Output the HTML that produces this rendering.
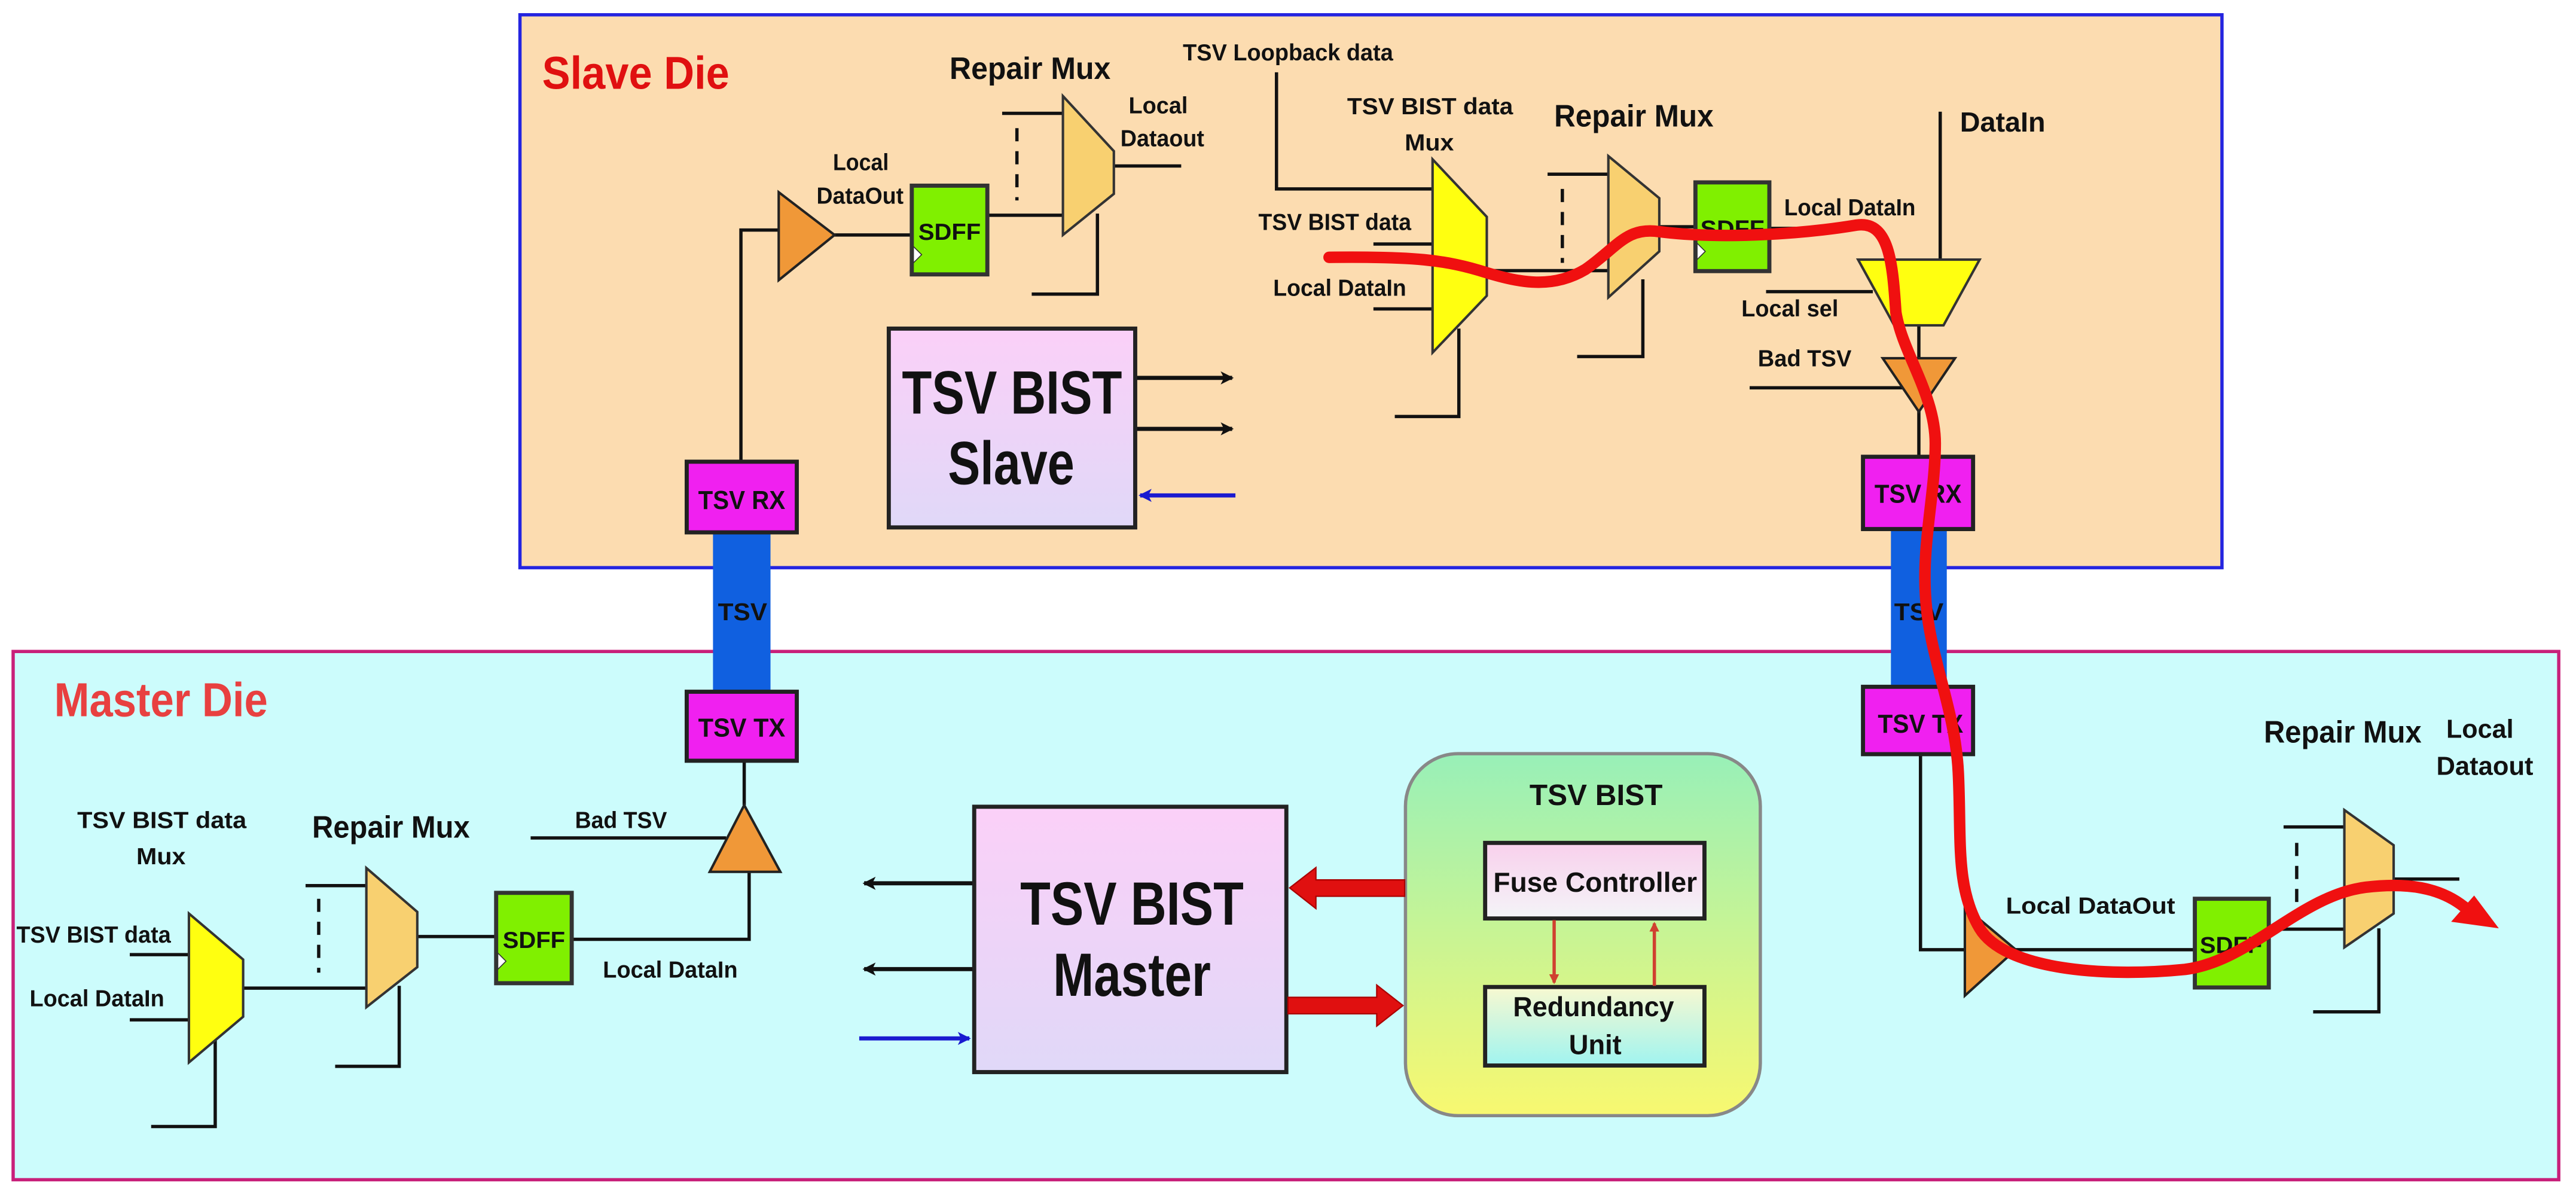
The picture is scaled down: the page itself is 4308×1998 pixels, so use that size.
<!DOCTYPE html>
<html><head><meta charset="utf-8"><style>
html,body{margin:0;padding:0;background:#fff;}
svg{display:block;}
text{font-family:"Liberation Sans",Arial,sans-serif;font-weight:bold;fill:#111;}
</style></head><body>
<svg width="4308" height="1998" viewBox="0 0 1568 727.3" preserveAspectRatio="none" xmlns="http://www.w3.org/2000/svg">
<defs>
<linearGradient id="pk" x1="0" y1="0" x2="0" y2="1"><stop offset="0" stop-color="#fbd0f8"/><stop offset="1" stop-color="#e0d8f8"/></linearGradient>
<linearGradient id="gy" x1="0" y1="0" x2="0" y2="1"><stop offset="0" stop-color="#98f0b8"/><stop offset="1" stop-color="#f8f870"/></linearGradient>
<linearGradient id="fc" x1="0" y1="0" x2="0" y2="1"><stop offset="0" stop-color="#f8d0ec"/><stop offset="1" stop-color="#f4f4f8"/></linearGradient>
<linearGradient id="ru" x1="0" y1="0" x2="0" y2="1"><stop offset="0" stop-color="#f8f8d0"/><stop offset="1" stop-color="#a0f4f0"/></linearGradient>
<marker id="ab" markerWidth="8" markerHeight="8" refX="7" refY="4" orient="auto" markerUnits="userSpaceOnUse"><path d="M0,0 L8,4 L0,8 L2,4z" fill="#111"/></marker>
<marker id="abl" markerWidth="8" markerHeight="8" refX="7" refY="4" orient="auto" markerUnits="userSpaceOnUse"><path d="M0,0 L8,4 L0,8 L2,4z" fill="#1a1ad0"/></marker>
<marker id="ar" markerWidth="6" markerHeight="6" refX="5" refY="3" orient="auto" markerUnits="userSpaceOnUse"><path d="M0,0 L6,3 L0,6z" fill="#d04030"/></marker>
</defs>

<!-- Dies -->
<rect x="316.5" y="9" width="1036" height="336.5" fill="#fcdcb0" stroke="#2424e0" stroke-width="2"/>
<rect x="8" y="396.5" width="1549.5" height="321.5" fill="#ccfcfc" stroke="#c8207a" stroke-width="2"/>
<text x="330" y="54" font-size="28" style="fill:#e01010" textLength="114" lengthAdjust="spacingAndGlyphs">Slave Die</text>
<text x="33" y="436" font-size="29" style="fill:#e84040" textLength="130" lengthAdjust="spacingAndGlyphs">Master Die</text>

<g stroke="#111" stroke-width="2" fill="none">
<!-- slave left -->
<polyline points="451,281 451,140 474,140"/>
<line x1="508" y1="143" x2="555" y2="143"/>
<line x1="601" y1="131" x2="647" y2="131"/>
<line x1="610" y1="69" x2="647" y2="69"/>
<line x1="619" y1="78" x2="619" y2="122" stroke-dasharray="8,6"/>
<polyline points="668,130 668,179 628,179"/>
<line x1="678" y1="101" x2="719" y2="101"/>
<!-- loopback -->
<polyline points="777,44 777,115 872,115"/>
<line x1="836" y1="148.5" x2="872" y2="148.5"/>
<line x1="836" y1="188" x2="872" y2="188"/>
<polyline points="888,200 888,253.5 849,253.5"/>
<line x1="905" y1="164.7" x2="979" y2="164.7"/>
<line x1="942" y1="106" x2="979" y2="106"/>
<line x1="951" y1="115" x2="951" y2="160" stroke-dasharray="8,6"/>
<polyline points="1000,170 1000,217 960,217"/>
<line x1="1010" y1="138" x2="1032" y2="138"/>
<line x1="1077" y1="139" x2="1140" y2="139"/>
<line x1="1181" y1="68" x2="1181" y2="158"/>
<line x1="1075" y1="177.5" x2="1140" y2="177.5"/>
<line x1="1168" y1="198" x2="1168" y2="218"/>
<line x1="1065" y1="236" x2="1158" y2="236"/>
<line x1="1168" y1="250" x2="1168" y2="278"/>
<!-- slave bist arrows -->
<line x1="692" y1="230" x2="750" y2="230" marker-end="url(#ab)" stroke-width="2.5"/>
<line x1="692" y1="261" x2="750" y2="261" marker-end="url(#ab)" stroke-width="2.5"/>
<line x1="752" y1="301.5" x2="694" y2="301.5" marker-end="url(#abl)" stroke="#1a1ad0" stroke-width="2.5"/>
<!-- master left -->
<line x1="453" y1="463" x2="453" y2="490"/>
<line x1="323" y1="510" x2="442" y2="510"/>
<polyline points="456,531 456,571.7 348,571.7"/>
<line x1="254" y1="570" x2="302" y2="570"/>
<line x1="186" y1="539" x2="223" y2="539"/>
<line x1="194" y1="547" x2="194" y2="592" stroke-dasharray="8,6"/>
<polyline points="243,600 243,649 204,649"/>
<line x1="148" y1="601.4" x2="223" y2="601.4"/>
<line x1="79" y1="581" x2="115" y2="581"/>
<line x1="79" y1="620.7" x2="115" y2="620.7"/>
<polyline points="131,630 131,685.6 92,685.6"/>
<line x1="592" y1="537.6" x2="526" y2="537.6" marker-end="url(#ab)" stroke-width="2.5"/>
<line x1="592" y1="589.8" x2="526" y2="589.8" marker-end="url(#ab)" stroke-width="2.5"/>
<line x1="523" y1="632" x2="590" y2="632" marker-end="url(#abl)" stroke="#1a1ad0" stroke-width="2.5"/>
<!-- master right -->
<polyline points="1169,459 1169,578 1196,578"/>
<line x1="1227" y1="578" x2="1336" y2="578"/>
<line x1="1381" y1="565.5" x2="1427" y2="565.5"/>
<line x1="1390" y1="503.3" x2="1427" y2="503.3"/>
<line x1="1398" y1="513" x2="1398" y2="557" stroke-dasharray="8,6"/>
<polyline points="1448,565 1448,615.8 1408,615.8"/>
<line x1="1457" y1="535" x2="1497" y2="535"/>
</g>

<!-- TSV bars -->
<rect x="434" y="324" width="35" height="97" fill="#1060e0"/>
<rect x="1151" y="322" width="34" height="96" fill="#1060e0"/>
<text x="437" y="377.5" font-size="15" textLength="30" lengthAdjust="spacingAndGlyphs">TSV</text>
<text x="1153" y="377.5" font-size="15" textLength="30" lengthAdjust="spacingAndGlyphs">TSV</text>

<!-- TSV RX/TX -->
<g stroke="#222" stroke-width="2.5" fill="#f020f0">
<rect x="418" y="281" width="67" height="43"/>
<rect x="418" y="421" width="67" height="42"/>
<rect x="1134" y="278" width="67" height="44"/>
<rect x="1134" y="418" width="67" height="41"/>
</g>
<g font-size="16">
<text x="425" y="309.7" textLength="53" lengthAdjust="spacingAndGlyphs">TSV RX</text>
<text x="425" y="448.3" textLength="53" lengthAdjust="spacingAndGlyphs">TSV TX</text>
<text x="1141" y="306" textLength="53" lengthAdjust="spacingAndGlyphs">TSV RX</text>
<text x="1143" y="446" textLength="52" lengthAdjust="spacingAndGlyphs">TSV TX</text>
</g>

<!-- Buffers -->
<g fill="#f09838" stroke="#222" stroke-width="1.5">
<polygon points="474,117 474,170.5 508,143"/>
<polygon points="1146,218 1190,218 1168,250.6"/>
<polygon points="453,490 432,530.6 475,530.6"/>
<polygon points="1196,552 1196,606 1227,578"/>
</g>
<!-- Yellow muxes -->
<g fill="#ffff10" stroke="#333" stroke-width="1.5">
<polygon points="872,97 905,132 905,180 872,214.6"/>
<polygon points="1131,158 1205,158 1183,198 1153,198"/>
<polygon points="115,556 148,584 148,618.8 115,646.6"/>
</g>
<!-- Repair muxes -->
<g fill="#f8d070" stroke="#333" stroke-width="1.5">
<polygon points="647,58.5 678,92 678,118 647,143"/>
<polygon points="979,95 1010,120.6 1010,153 979,181"/>
<polygon points="223,528.3 254,555 254,588.6 223,613"/>
<polygon points="1427,493 1457,514.4 1457,556 1427,576.6"/>
</g>
<!-- SDFFs -->
<g stroke="#333" stroke-width="2.5" fill="#80f000">
<rect x="555" y="113" width="46" height="54"/>
<rect x="1032" y="111" width="45" height="54"/>
<rect x="302" y="543.4" width="46" height="55"/>
<rect x="1336" y="547" width="45" height="54"/>
</g>
<g fill="#fff" stroke="#333" stroke-width="0.6">
<polygon points="556,150 561,155 556,160"/>
<polygon points="1033,148 1038,153 1033,158"/>
<polygon points="303,580 308,585 303,590"/>
</g>
<g font-size="14" style="fill:#1a3a1a">
<text x="559" y="146" textLength="38" lengthAdjust="spacingAndGlyphs">SDFF</text>
<text x="1035" y="144" textLength="39" lengthAdjust="spacingAndGlyphs">SDFF</text>
<text x="306" y="577" textLength="38" lengthAdjust="spacingAndGlyphs">SDFF</text>
<text x="1339" y="580" textLength="38" lengthAdjust="spacingAndGlyphs">SDFF</text>
</g>

<!-- BIST boxes -->
<rect x="541" y="200" width="150" height="121" fill="url(#pk)" stroke="#222" stroke-width="2.5"/>
<rect x="593" y="491" width="190" height="161.5" fill="url(#pk)" stroke="#222" stroke-width="2.5"/>
<text x="549" y="251.7" font-size="37" textLength="134" lengthAdjust="spacingAndGlyphs">TSV BIST</text>
<text x="577" y="294.6" font-size="37" textLength="77" lengthAdjust="spacingAndGlyphs">Slave</text>
<text x="621" y="562.7" font-size="37" textLength="136" lengthAdjust="spacingAndGlyphs">TSV BIST</text>
<text x="641" y="606" font-size="37" textLength="96" lengthAdjust="spacingAndGlyphs">Master</text>

<rect x="855.5" y="458.7" width="216" height="220.3" rx="32" fill="url(#gy)" stroke="#888" stroke-width="2"/>
<text x="931" y="490" font-size="18" textLength="81" lengthAdjust="spacingAndGlyphs">TSV BIST</text>
<rect x="904" y="513" width="133.5" height="46" fill="url(#fc)" stroke="#222" stroke-width="2.5"/>
<rect x="904" y="600.7" width="133.5" height="47.8" fill="url(#ru)" stroke="#222" stroke-width="2.5"/>
<text x="909" y="542.7" font-size="17" textLength="124" lengthAdjust="spacingAndGlyphs">Fuse Controller</text>
<text x="921" y="618.5" font-size="17" textLength="98" lengthAdjust="spacingAndGlyphs">Redundancy</text>
<text x="955" y="641.5" font-size="17" textLength="32" lengthAdjust="spacingAndGlyphs">Unit</text>
<line x1="946" y1="560" x2="946" y2="598" stroke="#d04030" stroke-width="2" marker-end="url(#ar)"/>
<line x1="1007" y1="600" x2="1007" y2="562" stroke="#d04030" stroke-width="2" marker-end="url(#ar)"/>
<!-- big red arrows -->
<g fill="#e01010" stroke="#a00" stroke-width="0.8">
<polygon points="855,535.5 801,535.5 801,528 785,540.4 801,553 801,545.5 855,545.5"/>
<polygon points="784,607 838,607 838,599.5 854,612 838,624.5 838,617 784,617"/>
</g>

<!-- labels -->
<g font-size="14">
<text x="578" y="48" font-size="19" textLength="98" lengthAdjust="spacingAndGlyphs">Repair Mux</text>
<text x="687" y="69" textLength="36" lengthAdjust="spacingAndGlyphs">Local</text>
<text x="682" y="89" textLength="51" lengthAdjust="spacingAndGlyphs">Dataout</text>
<text x="507" y="103.5" textLength="34" lengthAdjust="spacingAndGlyphs">Local</text>
<text x="497" y="124" textLength="53" lengthAdjust="spacingAndGlyphs">DataOut</text>
<text x="720" y="36.7" textLength="128" lengthAdjust="spacingAndGlyphs">TSV Loopback data</text>
<text x="820" y="69.6" textLength="101" lengthAdjust="spacingAndGlyphs">TSV BIST data</text>
<text x="855" y="91.6" textLength="30" lengthAdjust="spacingAndGlyphs">Mux</text>
<text x="766" y="140" textLength="93" lengthAdjust="spacingAndGlyphs">TSV BIST data</text>
<text x="775" y="180" textLength="81" lengthAdjust="spacingAndGlyphs">Local DataIn</text>
<text x="946" y="77" font-size="19" textLength="97" lengthAdjust="spacingAndGlyphs">Repair Mux</text>
<text x="1086" y="131" textLength="80" lengthAdjust="spacingAndGlyphs">Local DataIn</text>
<text x="1193" y="80" font-size="17" textLength="52" lengthAdjust="spacingAndGlyphs">DataIn</text>
<text x="1060" y="192.6" textLength="59" lengthAdjust="spacingAndGlyphs">Local sel</text>
<text x="1070" y="223" textLength="57" lengthAdjust="spacingAndGlyphs">Bad TSV</text>
<text x="47" y="504" textLength="103" lengthAdjust="spacingAndGlyphs">TSV BIST data</text>
<text x="83" y="526" textLength="30" lengthAdjust="spacingAndGlyphs">Mux</text>
<text x="190" y="509.8" font-size="19" textLength="96" lengthAdjust="spacingAndGlyphs">Repair Mux</text>
<text x="350" y="504" textLength="56" lengthAdjust="spacingAndGlyphs">Bad TSV</text>
<text x="10" y="573.6" textLength="94" lengthAdjust="spacingAndGlyphs">TSV BIST data</text>
<text x="18" y="612.5" textLength="82" lengthAdjust="spacingAndGlyphs">Local DataIn</text>
<text x="367" y="594.9" textLength="82" lengthAdjust="spacingAndGlyphs">Local DataIn</text>
<text x="1221" y="556" textLength="103" lengthAdjust="spacingAndGlyphs">Local DataOut</text>
<text x="1378" y="452" font-size="19" textLength="96" lengthAdjust="spacingAndGlyphs">Repair Mux</text>
<text x="1489" y="449" font-size="16" textLength="41" lengthAdjust="spacingAndGlyphs">Local</text>
<text x="1483" y="471.5" font-size="16" textLength="59" lengthAdjust="spacingAndGlyphs">Dataout</text>
</g>

<!-- red data path -->
<path d="M809,156.6 C860,156 880,158 905,166 C925,172 945,176 965,164 C985,150 990,138 1010,141 C1050,146 1100,142 1130,137 C1150,134 1152,160 1154,190 C1158,215 1178,240 1178,270 C1178,300 1170,330 1172,362 C1174,400 1190,430 1192,470 C1194,510 1190,540 1205,565 C1220,590 1280,595 1330,590 C1370,585 1400,545 1440,540 C1465,537 1485,540 1500,552" fill="none" stroke="#f01010" stroke-width="7" stroke-linecap="round"/>
<polygon points="1521,565 1492,561 1506,545" fill="#f01010"/>
</svg>
</body></html>
